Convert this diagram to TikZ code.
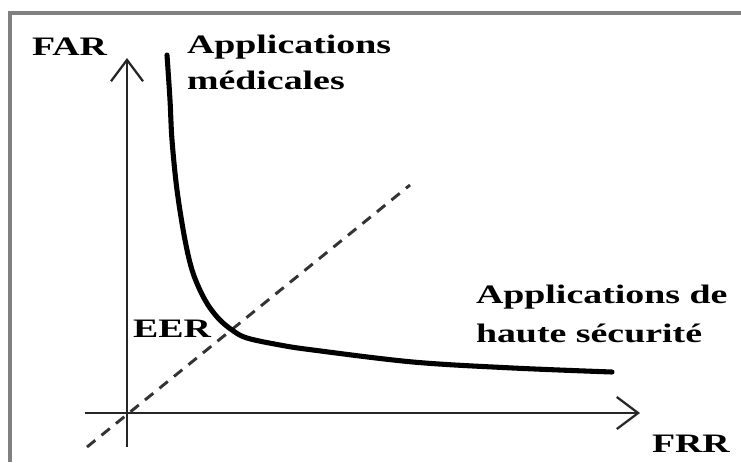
\documentclass[tikz,border=0pt]{standalone}
\usepackage{fontspec}
\usepackage{graphicx}
\setmainfont{Liberation Serif}
\usetikzlibrary{arrows.meta}
\newcommand\stretchtxt[1]{\scalebox{1.42}[1]{#1}}
\begin{document}
\begin{tikzpicture}[x=0.75pt,y=-0.75pt,
  lbl/.style={anchor=base west,inner sep=0pt,outer sep=0pt,
    font=\fontsize{20}{24}\selectfont\bfseries},
  axis/.style={line width=1.7pt,black!85,
    -{Straight Barb[length=16pt,width=24pt]}},
  curvestyle/.style={line width=3.8pt,line cap=round},
  diag/.style={line width=2.2pt,black!80,dash pattern=on 8pt off 6pt},
  frame/.style={line width=2.4pt,black!50}]
\useasboundingbox (0,0) rectangle (741,462);
% outer frame (top and left edges only)
\draw[frame] (10,462) -- (10,13) -- (741,13);
% key points
\coordinate (O) at (127,413);
\coordinate (ytop) at (127,58);
\coordinate (ybot) at (127,447);
\coordinate (xleft) at (85,413);
\coordinate (xtip) at (640,413);
\coordinate (dlow) at (87,447);
\coordinate (dhigh) at (410,185);
% equal-error diagonal
\draw[diag] (dlow) -- (dhigh);
% axes
\draw[axis] (ybot) -- (ytop);
\draw[axis] (xleft) -- (xtip);
% trade-off curve
\draw[curvestyle] plot[smooth,tension=0.55] coordinates {
  (167,55) (170,100) (172,140) (177,190) (185,240) (193,273)
  (205,300) (218,318) (232,330) (247,338) (280,345) (313,350)
  (413,362) (513,368) (612,372)};
% labels
\node[lbl] (far) at (32,55) {\stretchtxt{FAR}};
\node[lbl] (med1) at (187,53) {\stretchtxt{Applications}};
\node[lbl] (med2) at (187,89) {\stretchtxt{médicales}};
\node[lbl] (eer) at (133,337) {\stretchtxt{EER}};
\node[lbl] (sec1) at (476,303) {\stretchtxt{Applications de}};
\node[lbl] (sec2) at (476,342) {\stretchtxt{haute sécurité}};
\node[lbl] (frr) at (652,452) {\stretchtxt{FRR}};
\end{tikzpicture}
\end{document}
